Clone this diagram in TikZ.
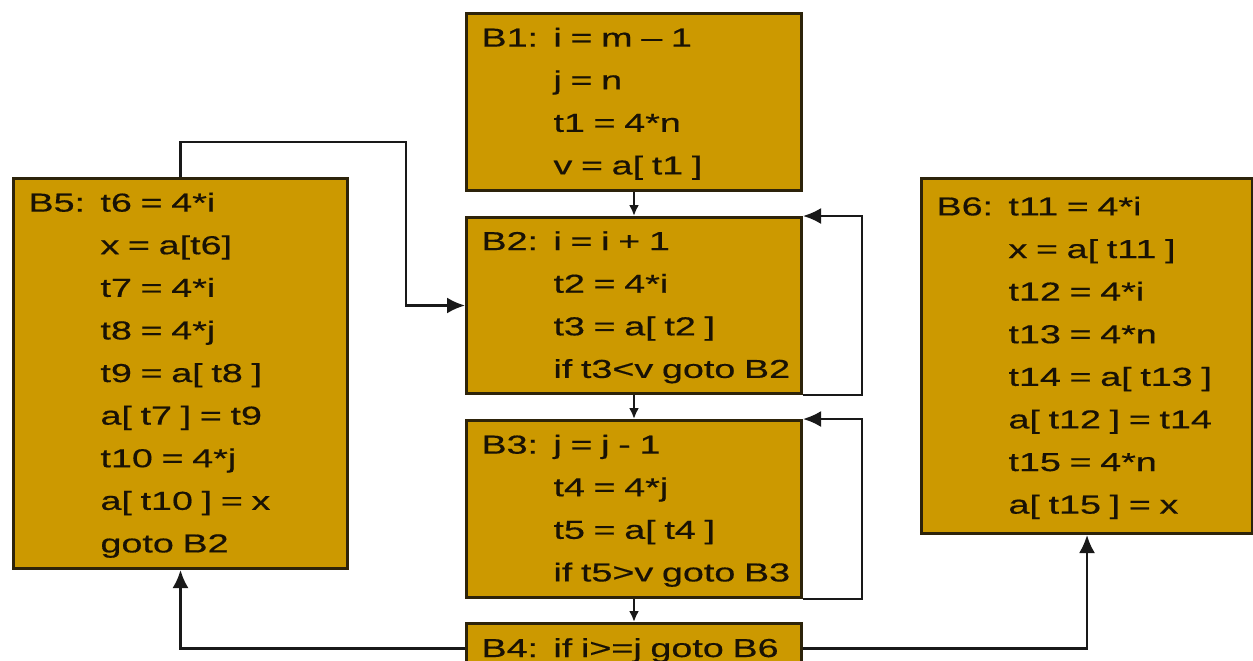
\documentclass[tikz,border=0pt]{standalone}
\usepackage{fontspec}
\setmainfont[FakeStretch=1.45, FakeBold=0.5]{Liberation Sans}
\usepackage{tikz}
\usetikzlibrary{arrows.meta}
\usetikzlibrary{positioning}
\definecolor{blockfill}{RGB}{204,153,0}
\definecolor{blockline}{RGB}{45,35,10}
\definecolor{codetext}{RGB}{25,18,5}
\tikzset{>={Latex[length=9pt,width=8pt]}, font=\fontsize{13}{21.3}\selectfont}
\tikzstyle{block} = [draw=blockline, fill=blockfill, line width=1.5pt, rectangle, anchor=north west, inner xsep=7.5pt, inner ysep=0pt, text width=152.5pt, align=left, text=codetext]
\tikzstyle{link} = [->, line width=1.2pt, draw=black!90]
\tikzstyle{flow} = [link, >={Latex[length=5.5pt,width=5pt]}]
\newenvironment{codelines}{\begin{tabular}{@{}p{36pt}@{}l@{}}}{\end{tabular}}

\begin{document}
\begin{tikzpicture}[x=0.5pt, y=-0.5pt]
    \useasboundingbox (0,0) rectangle (1253,660);
    \node [block, minimum height=88.5pt] (B1) at (465,12) {\begin{codelines}
        B1: & i = m -- 1\\ & j = n\\ & t1 = 4*n\\ & v = a[ t1 ]
    \end{codelines}};
    \node [block, minimum height=88pt, below=12pt of B1] (B2) {\begin{codelines}
        B2: & i = i + 1\\ & t2 = 4*i\\ & t3 = a[ t2 ]\\ & if t3<v goto B2
    \end{codelines}};
    \node [block, minimum height=88.5pt, below=12pt of B2] (B3) {\begin{codelines}
        B3: & j = j - 1\\ & t4 = 4*j\\ & t5 = a[ t4 ]\\ & if t5>v goto B3
    \end{codelines}};
    \node [block, minimum height=25pt, below=11.5pt of B3] (B4) {\begin{codelines}
        B4: & if i>=j goto B6
    \end{codelines}};
    \node [block, text width=152pt, minimum height=195pt] (B5) at (12,177) {\begin{codelines}
        B5: & t6 = 4*i\\ & x = a[t6]\\ & t7 = 4*i\\ & t8 = 4*j\\ & t9 = a[ t8 ]\\
            & a[ t7 ] = t9\\ & t10 = 4*j\\ & a[ t10 ] = x\\ & goto B2
    \end{codelines}};
    \node [block, text width=150.5pt, minimum height=177.5pt] (B6) at (920,177) {\begin{codelines}
        B6: & t11 = 4*i\\ & x = a[ t11 ]\\ & t12 = 4*i\\ & t13 = 4*n\\ & t14 = a[ t13 ]\\
            & a[ t12 ] = t14\\ & t15 = 4*n\\ & a[ t15 ] = x
    \end{codelines}};
    \coordinate (bend) at (406,142);

    \draw [flow] (B1.south) -- (B2.north);
    \draw [flow] (B2.south) -- (B3.north);
    \draw [flow] (B3.south) -- (B4.north);
    \draw [link] (B2.south east) -- ++(59,0) |- (B2.north east);
    \draw [link] (B3.south east) -- ++(59,0) |- (B3.north east);
    \draw [link] (B4.west) -| (B5.south);
    \draw [link] (B4.east) -| (B6.south);
    \draw [link] (B5.north) |- (bend) |- (B2.west);
\end{tikzpicture}
\end{document}
